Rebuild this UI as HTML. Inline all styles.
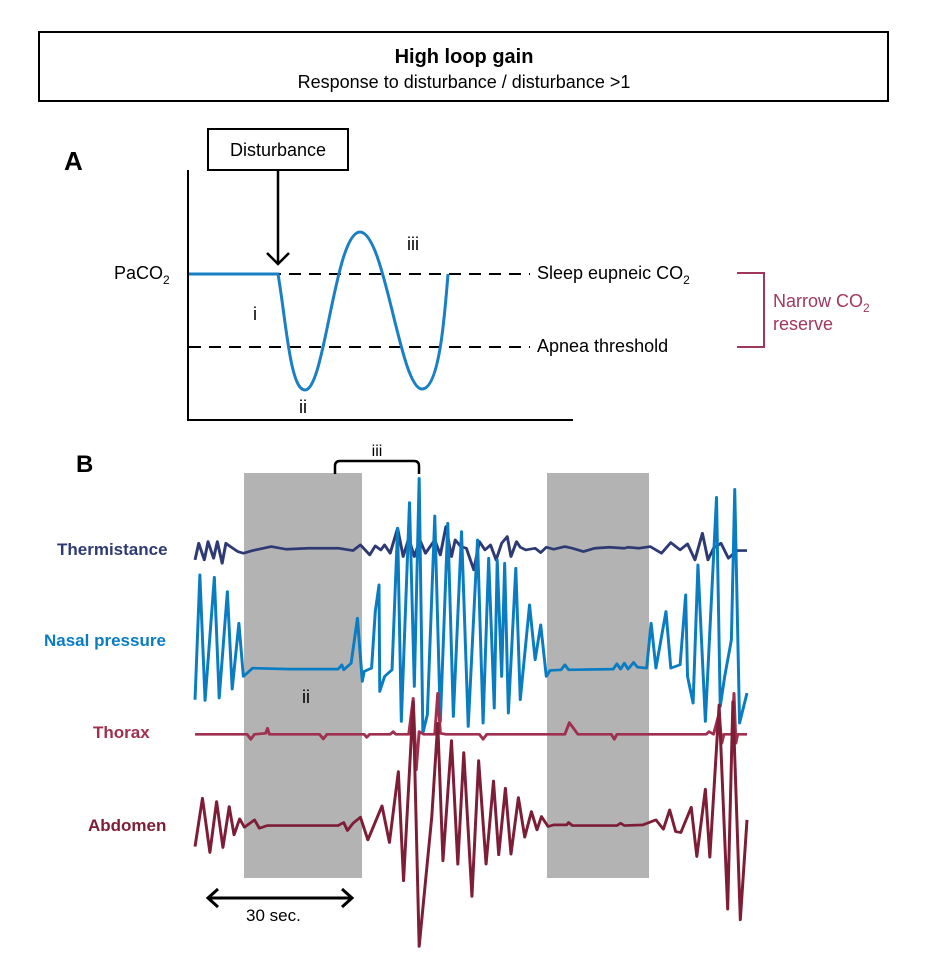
<!DOCTYPE html>
<html><head><meta charset="utf-8"><style>
html,body{margin:0;padding:0;background:#fff;}
svg{display:block;font-family:"Liberation Sans",sans-serif;}
</style></head><body>
<svg width="928" height="978" viewBox="0 0 928 978" xmlns="http://www.w3.org/2000/svg">
<rect x="39" y="32" width="849" height="69" fill="#fff" stroke="#000" stroke-width="2"/>
<text x="464" y="63" text-anchor="middle" font-size="20" font-weight="bold">High loop gain</text>
<text x="464" y="88" text-anchor="middle" font-size="18">Response to disturbance / disturbance &gt;1</text>

<text x="64" y="170" font-size="26" font-weight="bold">A</text>
<line x1="188" y1="170" x2="188" y2="421" stroke="#000" stroke-width="2"/>
<line x1="187" y1="420" x2="573" y2="420" stroke="#000" stroke-width="2"/>
<rect x="208" y="129" width="140" height="41" fill="#fff" stroke="#000" stroke-width="2"/>
<text x="278" y="156" text-anchor="middle" font-size="18">Disturbance</text>
<line x1="278" y1="170" x2="278" y2="263" stroke="#000" stroke-width="2.5"/>
<polyline points="267,253 278,264 289,253" fill="none" stroke="#000" stroke-width="2.5"/>
<text x="114" y="279" font-size="18">PaCO<tspan font-size="12" dy="5">2</tspan></text>
<line x1="189" y1="274" x2="530" y2="274" stroke="#000" stroke-width="2" stroke-dasharray="12,8"/>
<line x1="189" y1="347" x2="530" y2="347" stroke="#000" stroke-width="2" stroke-dasharray="12,8"/>
<path d="M189,274 L278,274 C286,320 290,390 305,390 C325,390 335,232 360,232 C385,232 400,389 422,389 C440,389 445,310 448,274" fill="none" stroke="#1a7fc4" stroke-width="3"/>
<text x="253" y="320" font-size="18">i</text>
<text x="299" y="413" font-size="18">ii</text>
<text x="407" y="250" font-size="18">iii</text>
<text x="537" y="279" font-size="18">Sleep eupneic CO<tspan font-size="12" dy="5">2</tspan></text>
<text x="537" y="352" font-size="18">Apnea threshold</text>
<polyline points="737,273 764,273 764,347 737,347" fill="none" stroke="#a0385a" stroke-width="2"/>
<text x="773" y="307" font-size="18" fill="#a0385a">Narrow CO<tspan font-size="12" dy="5">2</tspan></text>
<text x="773" y="330" font-size="18" fill="#a0385a">reserve</text>

<text x="76" y="472" font-size="24" font-weight="bold">B</text>
<rect x="244" y="473" width="118" height="405" fill="#b3b3b3"/>
<rect x="547" y="473" width="102" height="405" fill="#b3b3b3"/>
<path d="M335,474 L335,466 Q335,461 340,461 L414,461 Q419,461 419,466 L419,474" fill="none" stroke="#000" stroke-width="2.5"/>
<text x="377" y="456" text-anchor="middle" font-size="16">iii</text>
<text x="302" y="703" font-size="18">ii</text>

<text x="57" y="555" font-size="17" font-weight="bold" fill="#2e3a73">Thermistance</text>
<text x="44" y="646" font-size="17" font-weight="bold" fill="#0a7dc2">Nasal pressure</text>
<text x="93" y="738" font-size="17" font-weight="bold" fill="#a0304f">Thorax</text>
<text x="88" y="831" font-size="17" font-weight="bold" fill="#7d1d36">Abdomen</text>

<g transform="translate(178.3,460) scale(0.3717,0.333)" fill="none" stroke-width="8" stroke-linejoin="round">
<polyline stroke="#2e3a73" points="45,300 55,250 70,300 80,245 95,295 105,245 118,310 128,250 140,260 160,275 175,280 200,272 250,260 290,268 350,265 430,265 470,272 490,255 515,285 530,258 545,270 555,255 570,280 590,205 605,290 620,235 635,290 650,240 665,280 690,240 705,285 720,200 735,290 745,240 760,260 775,265 795,330 810,245 825,270 840,255 855,300 870,250 885,230 895,290 910,245 920,262 935,270 960,265 975,278 990,262 1010,268 1040,260 1060,265 1090,275 1120,265 1160,262 1200,265 1210,262 1240,265 1270,260 1300,280 1325,248 1350,270 1370,252 1390,300 1410,220 1425,300 1440,265 1460,250 1480,295 1495,280 1505,272 1530,272"/>
<polyline stroke="#0a7dc2" points="45,720 58,345 72,722 97,352 110,715 132,395 145,688 163,490 175,650 200,625 300,628 430,628 440,615 445,630 465,610 482,475 495,665 500,635 520,625 530,455 540,375 542,695 555,650 575,630 590,205 600,785 622,128 635,680 648,55 658,820 670,765 690,168 705,785 725,190 740,770 762,215 780,800 805,240 820,790 835,295 850,745 858,300 870,650 878,310 888,760 908,325 920,720 945,435 960,600 975,495 990,650 1000,632 1030,630 1040,615 1050,630 1170,628 1180,612 1190,628 1200,610 1210,628 1225,608 1235,622 1260,625 1272,490 1285,625 1312,455 1325,625 1350,615 1365,405 1370,650 1385,730 1398,315 1418,785 1448,112 1458,740 1470,650 1488,540 1497,88 1510,790 1530,700"/>
</g>
<g transform="translate(178.3,700) scale(0.3717,0.333)" fill="none" stroke-width="8" stroke-linejoin="round">
<polyline stroke="#a0304f" points="45,103 185,103 195,118 205,103 235,100 240,85 245,103 380,103 390,117 400,103 500,103 507,112 515,103 570,103 578,95 585,103 620,103 632,-5 640,210 648,95 660,103 690,103 698,-20 705,100 720,103 810,103 820,118 830,103 1040,103 1052,68 1075,103 1165,103 1173,118 1180,103 1420,103 1428,95 1440,103 1455,40 1462,130 1468,103 1490,103 1495,-20 1500,130 1505,103 1530,103"/>
<polyline stroke="#7d1d36" points="45,440 65,295 85,458 103,305 120,443 137,320 150,405 165,357 178,382 205,360 218,385 240,377 300,377 430,377 445,368 455,392 470,370 490,352 510,420 548,318 568,428 592,215 606,543 632,5 648,740 682,350 698,70 712,483 735,122 752,493 768,158 790,590 808,182 828,493 848,243 862,465 880,265 895,463 915,293 932,412 950,335 965,390 977,350 995,380 1010,375 1045,375 1050,368 1060,377 1180,377 1190,370 1200,377 1250,375 1285,360 1305,388 1322,330 1338,395 1352,398 1380,322 1395,470 1418,268 1430,472 1455,15 1478,628 1492,5 1512,660 1530,360"/>
</g>

<line x1="210" y1="898" x2="350" y2="898" stroke="#000" stroke-width="3"/>
<polyline points="218,889 208,898 218,907" fill="none" stroke="#000" stroke-width="3"/>
<polyline points="342,889 352,898 342,907" fill="none" stroke="#000" stroke-width="3"/>
<text x="246" y="921" font-size="17">30 sec.</text>
</svg>
</body></html>
